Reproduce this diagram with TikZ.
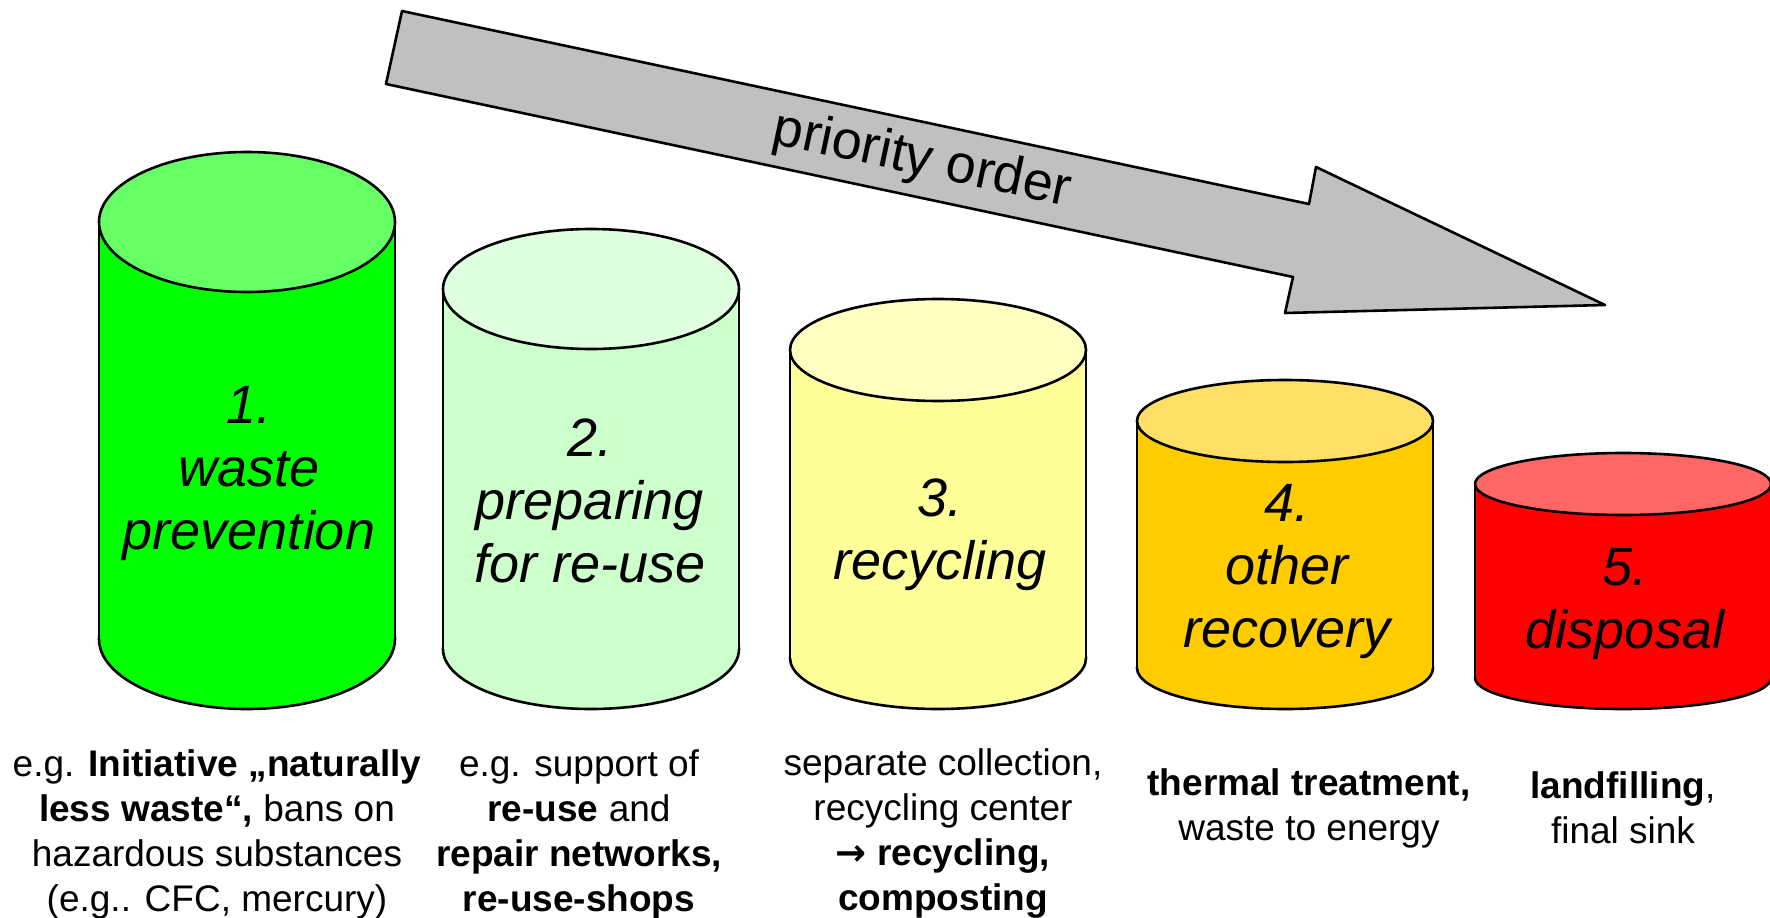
\documentclass[tikz,border=0pt]{standalone}
\usepackage{fontspec}
\setmainfont{Liberation Sans}
\newfontfamily\arrowfont{DejaVu Sans}
\definecolor{c1body}{HTML}{00FF00}
\definecolor{c1top}{HTML}{66FF66}
\definecolor{c2body}{HTML}{CCFFCC}
\definecolor{c2top}{HTML}{DFFFDF}
\definecolor{c3body}{HTML}{FFFF99}
\definecolor{c3top}{HTML}{FFFFC2}
\definecolor{c4body}{HTML}{FFCC00}
\definecolor{c4top}{HTML}{FFDF66}
\definecolor{c5body}{HTML}{FF0000}
\definecolor{c5top}{HTML}{FF6666}
\definecolor{arrowgray}{HTML}{C0C0C0}
\tikzset{
  outline/.style={draw=black, line width=2.6pt, line join=round},
  cyllabel/.style={font=\fontsize{54}{63}\selectfont\itshape, align=center, inner sep=0pt},
  desc/.style={font=\fontsize{37}{45}\selectfont, align=center, inner sep=0pt},
  arrowlabel/.style={font=\fontsize{54}{60}\selectfont, inner sep=0pt, rotate=-12}
}
% #1 name, #2 cx, #3 top y, #4 bottom y, #5 ry, #6 body colour, #7 top colour
\newcommand{\drawcyl}[7]{%
  \coordinate (#1) at (#2,#3);
  \fill[#6, outline] (#2,#4) ellipse [x radius=148pt, y radius=#5pt];
  \fill[#6] (#2-148,#3) rectangle (#2+148,#4);
  \draw[outline, line cap=round] (#2-148,#3) -- (#2-148,#4);
  \draw[outline, line cap=round] (#2+148,#3) -- (#2+148,#4);
  \filldraw[fill=#7, outline] (#2,#3) ellipse [x radius=148pt, y radius=#5pt];
}
\begin{document}
\begin{tikzpicture}[x=1pt,y=-1pt]
\useasboundingbox (0,0) rectangle (1770,918);
\fill[white] (0,0) rectangle (1770,918);

% priority arrow
\coordinate (a1) at (402,11);
\coordinate (a2) at (1309,204);
\coordinate (a3) at (1316,167);
\coordinate (a4) at (1605,305);
\coordinate (a5) at (1285,313);
\coordinate (a6) at (1293,277);
\coordinate (a7) at (386,84);
\filldraw[fill=arrowgray, outline] (a1) -- (a2) -- (a3) -- (a4) -- (a5) -- (a6) -- (a7) -- cycle;
\node[arrowlabel] (prio) at (922,161) {priority order};

% cylinders
\drawcyl{cyl1}{247}{222}{639}{70}{c1body}{c1top}
\drawcyl{cyl2}{591}{289}{649}{60}{c2body}{c2top}
\drawcyl{cyl3}{938}{350}{658}{51}{c3body}{c3top}
\drawcyl{cyl4}{1285}{421}{668}{41}{c4body}{c4top}
\drawcyl{cyl5}{1623}{484}{678}{31}{c5body}{c5top}

\node[cyllabel] (l1) at (249,474) {1.\\waste\\prevention};
\node[cyllabel] (l2) at (590,501) {2.\\preparing\\for re-use};
\node[cyllabel] (l3) at (940,535) {3.\\recycling};
\node[cyllabel] (l4) at (1287,572) {4.\\other\\recovery};
\node[cyllabel] (l5) at (1625,604) {5.\\disposal};

% descriptions
\node[desc] (d1) at (217,834) {e.g. \textbf{Initiative „naturally}\\\textbf{less waste“,} bans on\\hazardous substances\\(e.g.. CFC, mercury)};
\node[desc] (d2) at (579,834) {e.g. support of\\\textbf{re-use} and\\\textbf{repair networks,}\\\textbf{re-use-shops}};
\node[desc] (d3) at (943,834) {separate collection,\\recycling center\\\textbf{{\arrowfont\bfseries →} recycling,}\\\textbf{composting}};
\node[desc] (d4) at (1309,808) {\textbf{thermal treatment,}\\waste to energy};
\node[desc] (d5) at (1623,808) {\textbf{landfilling},\\final sink};
\end{tikzpicture}
\end{document}
